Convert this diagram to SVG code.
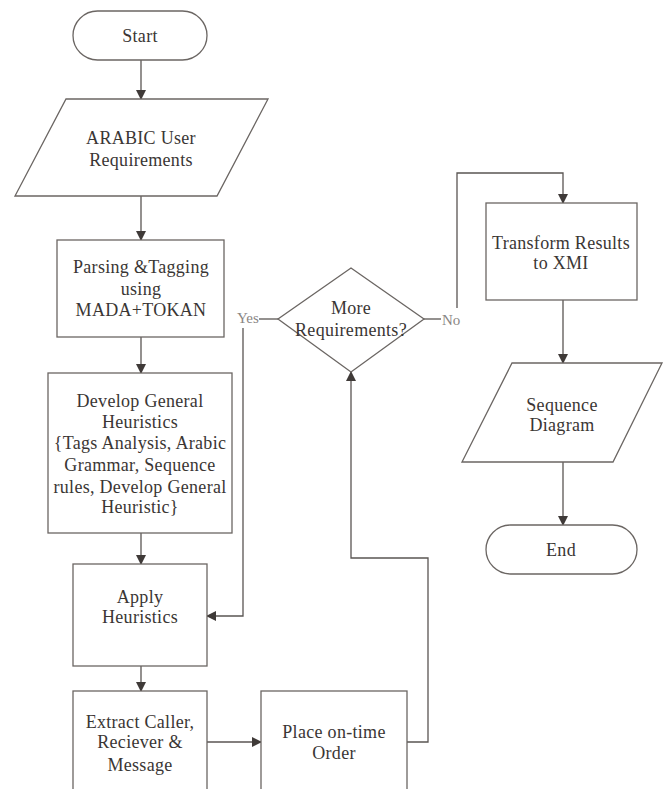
<svg xmlns="http://www.w3.org/2000/svg" width="667" height="789" viewBox="0 0 667 789">
<defs>
<marker id="ah" markerWidth="10" markerHeight="10" refX="9" refY="5" orient="auto" markerUnits="userSpaceOnUse">
<path d="M0,0 L10,5 L0,10 Z" fill="#3f3a38"/>
</marker>
<style>
.s{fill:#fff;stroke:#6b6663;stroke-width:1.3}
.t{font-family:'Liberation Serif','DejaVu Serif',serif;font-size:18px;fill:#3a3634;text-anchor:middle;letter-spacing:0.3px}
.l{font-family:'Liberation Serif','DejaVu Serif',serif;font-size:15px;fill:#8a8684}
.c{fill:none;stroke:#5a5553;stroke-width:1.3}
</style>
</defs>
<rect width="667" height="789" fill="#fff"/>
<g id="connectors">
<path class="c" d="M141,60 V99" marker-end="url(#ah)"/>
<path class="c" d="M141,196 V240" marker-end="url(#ah)"/>
<path class="c" d="M141,337 V373" marker-end="url(#ah)"/>
<path class="c" d="M141,533 V564" marker-end="url(#ah)"/>
<path class="c" d="M141,666 V691" marker-end="url(#ah)"/>
<path class="c" d="M207,742 H261" marker-end="url(#ah)"/>
<path class="c" d="M407,742 H428 V558 H351 V372" marker-end="url(#ah)"/>
<path class="c" d="M278,319 H259"/>
<path class="c" d="M243,328 V616 H207" marker-end="url(#ah)"/>
<path class="c" d="M424,319 H441"/>
<path class="c" d="M457,308 V173 H563 V203" marker-end="url(#ah)"/>
<path class="c" d="M563,300 V363" marker-end="url(#ah)"/>
<path class="c" d="M563,462 V525" marker-end="url(#ah)"/>
<text class="l" x="237" y="323">Yes</text>
<text class="l" x="442" y="325">No</text>
</g>
<g id="start">
<rect class="s" x="73" y="11" width="134" height="49" rx="24.5"/>
<text class="t" x="140" y="42">Start</text>
</g>
<g id="input">
<polygon class="s" points="66,99 268,99 217,196 15,196"/>
<text class="t" x="141" y="144">ARABIC User</text>
<text class="t" x="141" y="166">Requirements</text>
</g>
<g id="parsing">
<rect class="s" x="57" y="240" width="167" height="97"/>
<text class="t" x="141" y="273">Parsing &amp;Tagging</text>
<text class="t" x="141" y="295">using</text>
<text class="t" x="141" y="316">MADA+TOKAN</text>
</g>
<g id="develop">
<rect class="s" x="48" y="373" width="184" height="160"/>
<text class="t" x="140" y="407">Develop General</text>
<text class="t" x="140" y="428">Heuristics</text>
<text class="t" x="140" y="449">{Tags Analysis, Arabic</text>
<text class="t" x="140" y="471">Grammar, Sequence</text>
<text class="t" x="140" y="493">rules, Develop General</text>
<text class="t" x="140" y="513">Heuristic}</text>
</g>
<g id="apply">
<rect class="s" x="73" y="564" width="134" height="102"/>
<text class="t" x="140" y="603">Apply</text>
<text class="t" x="140" y="623">Heuristics</text>
</g>
<g id="extract">
<rect class="s" x="73" y="691" width="134" height="120"/>
<text class="t" x="140" y="728">Extract Caller,</text>
<text class="t" x="140" y="748">Reciever &amp;</text>
<text class="t" x="140" y="771">Message</text>
</g>
<g id="place">
<rect class="s" x="261" y="691" width="146" height="120"/>
<text class="t" x="334" y="738">Place on-time</text>
<text class="t" x="334" y="759">Order</text>
</g>
<g id="decision">
<polygon class="s" points="351,268 424,319 351,372 278,319"/>
<text class="t" x="351" y="314">More</text>
<text class="t" x="351" y="336">Requirements?</text>
</g>
<g id="transform">
<rect class="s" x="486" y="203" width="151" height="97"/>
<text class="t" x="561" y="249">Transform Results</text>
<text class="t" x="561" y="269">to XMI</text>
</g>
<g id="sequence">
<polygon class="s" points="512,363 662,363 613,462 462,462"/>
<text class="t" x="562" y="411">Sequence</text>
<text class="t" x="562" y="431">Diagram</text>
</g>
<g id="end">
<rect class="s" x="486" y="525" width="151" height="49" rx="24.5"/>
<text class="t" x="561" y="556">End</text>
</g>
</svg>
